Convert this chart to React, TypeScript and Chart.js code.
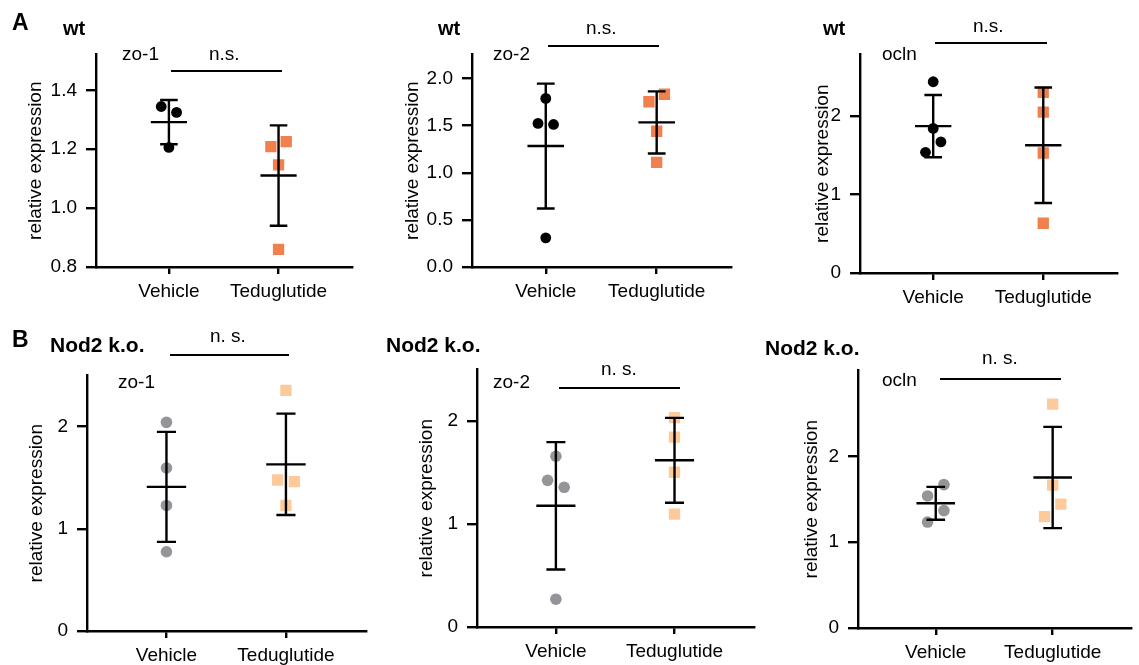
import React, { useEffect, useRef } from 'react';
import { Chart, registerables } from 'chart.js';

Chart.register(...registerables);
Chart.defaults.font.family = "'Liberation Sans', Arial, Helvetica, sans-serif";
Chart.defaults.color = '#000';

// ---------- data ----------
const groups = ['Vehicle', 'Teduglutide'];

const wtZo1Vehicle = [1.345, 1.325, 1.206];
const wtZo1Tedu = [1.209, 1.226, 1.147, 0.86];
const wtZo2Vehicle = [1.788, 1.523, 1.512, 0.309];
const wtZo2Tedu = [1.753, 1.832, 1.44, 1.11];
const wtOclnVehicle = [2.432, 1.839, 1.535, 1.667];
const wtOclnTedu = [2.296, 2.045, 1.526, 0.633];

const koZo1Vehicle = [2.041, 1.595, 1.228, 0.775];
const koZo1Tedu = [2.354, 1.477, 1.461, 1.228];
const koZo2Vehicle = [1.657, 1.423, 1.356, 0.27];
const koZo2Tedu = [2.032, 1.842, 1.502, 1.095];
const koOclnVehicle = [1.538, 1.67, 1.234, 1.367];
const koOclnTedu = [2.608, 1.663, 1.298, 1.442];

const ticksWtZo1 = ['0.8', '1.0', '1.2', '1.4'];
const ticksWtZo2 = ['0.0', '0.5', '1.0', '1.5', '2.0'];
const ticksInt = ['0', '1', '2'];

// ---------- styles ----------
const FONT = "'Liberation Sans', Arial, Helvetica, sans-serif";
const WT_CIRCLE = '#000000';
const WT_SQUARE = '#F1804F';
const KO_CIRCLE = '#939598';
const KO_SQUARE = '#FDCB9B';
const TXT = 19;
const LW = 2.4;

type PanelDef = {
  vehicle: number[];
  tedu: number[];
  yMin: number;
  yMax: number;
  ticks: string[];
  ko: boolean;
  scaleLeft: number;
  axisX: number;
  top: number;
  right: number;
  bottom: number;
};

const panels: PanelDef[] = [
  { vehicle: wtZo1Vehicle, tedu: wtZo1Tedu, yMin: 0.8, yMax: 1.522, ticks: ticksWtZo1, ko: false, scaleLeft: 24, axisX: 96, top: 48, right: 358, bottom: 267 },
  { vehicle: wtZo2Vehicle, tedu: wtZo2Tedu, yMin: 0, yMax: 2.255, ticks: ticksWtZo2, ko: false, scaleLeft: 401, axisX: 472, top: 48, right: 737, bottom: 267 },
  { vehicle: wtOclnVehicle, tedu: wtOclnTedu, yMin: 0, yMax: 2.78, ticks: ticksInt, ko: false, scaleLeft: 811, axisX: 860, top: 48, right: 1123, bottom: 273 },
  { vehicle: koZo1Vehicle, tedu: koZo1Tedu, yMin: 0, yMax: 2.5, ticks: ticksInt, ko: true, scaleLeft: 25, axisX: 87, top: 369, right: 372, bottom: 631 },
  { vehicle: koZo2Vehicle, tedu: koZo2Tedu, yMin: 0, yMax: 2.5, ticks: ticksInt, ko: true, scaleLeft: 415, axisX: 477, top: 363, right: 760, bottom: 627 },
  { vehicle: koOclnVehicle, tedu: koOclnTedu, yMin: 0, yMax: 3.0, ticks: ticksInt, ko: true, scaleLeft: 800, axisX: 858, top: 364, right: 1137, bottom: 628 },
];

type Label = { text: string; x: number; base: number; size: number; bold?: boolean };
const labels: Label[] = [
  { text: 'A', x: 12, base: 30, size: 23, bold: true },
  { text: 'wt', x: 63, base: 35, size: 20, bold: true },
  { text: 'zo-1', x: 122, base: 60, size: TXT },
  { text: 'n.s.', x: 209, base: 60, size: TXT },
  { text: 'wt', x: 438, base: 35, size: 20, bold: true },
  { text: 'zo-2', x: 493, base: 60, size: TXT },
  { text: 'n.s.', x: 586, base: 34, size: TXT },
  { text: 'wt', x: 823, base: 35, size: 20, bold: true },
  { text: 'ocln', x: 882, base: 60, size: TXT },
  { text: 'n.s.', x: 973, base: 32, size: TXT },
  { text: 'B', x: 12, base: 347, size: 23, bold: true },
  { text: 'Nod2 k.o.', x: 50, base: 352, size: 21, bold: true },
  { text: 'zo-1', x: 118, base: 388, size: TXT },
  { text: 'n. s.', x: 210, base: 342, size: TXT },
  { text: 'Nod2 k.o.', x: 386, base: 352, size: 21, bold: true },
  { text: 'zo-2', x: 493, base: 388, size: TXT },
  { text: 'n. s.', x: 601, base: 375, size: TXT },
  { text: 'Nod2 k.o.', x: 765, base: 355, size: 21, bold: true },
  { text: 'ocln', x: 882, base: 386, size: TXT },
  { text: 'n. s.', x: 982, base: 364, size: TXT },
];

const brackets = [
  { x1: 171, x2: 282, y: 71 },
  { x1: 548, x2: 659, y: 46 },
  { x1: 935, x2: 1047, y: 43 },
  { x1: 170, x2: 289, y: 355 },
  { x1: 559, x2: 680, y: 388 },
  { x1: 940, x2: 1061, y: 379 },
];

// simple beeswarm: neighbouring values closer than thr share a row, centred
function swarm(values: number[], center: number, thr: number, step: number): number[] {
  const order = values.map((_, i) => i).sort((a, b) => values[b] - values[a]);
  const xs = values.map(() => center);
  let row: number[] = [];
  const flush = () => {
    const r = [...row].sort((a, b) => a - b);
    r.forEach((idx, k) => {
      xs[idx] = center + (k - (r.length - 1) / 2) * step;
    });
    row = [];
  };
  order.forEach((idx, k) => {
    if (k > 0 && values[order[k - 1]] - values[idx] >= thr) flush();
    row.push(idx);
  });
  flush();
  return xs;
}

const meanSdPlugin = {
  id: 'meanSd',
  afterDatasetsDraw(chart: any) {
    const { ctx } = chart;
    const x = chart.scales.x;
    const y = chart.scales.y;
    ctx.save();
    ctx.strokeStyle = '#000';
    ctx.lineWidth = LW;
    chart.data.datasets.forEach((ds: any) => {
      const vals: number[] = ds.data.map((p: any) => p.y);
      const n = vals.length;
      const m = vals.reduce((a, b) => a + b, 0) / n;
      const sd = Math.sqrt(vals.reduce((a, b) => a + (b - m) * (b - m), 0) / (n - 1));
      const g = ds.groupX;
      const cx = x.getPixelForValue(g);
      const hw = x.getPixelForValue(g + 0.165) - cx;
      const cw = x.getPixelForValue(g + 0.08) - cx;
      const ym = y.getPixelForValue(m);
      const yt = y.getPixelForValue(m + sd);
      const yb = y.getPixelForValue(m - sd);
      ctx.beginPath();
      ctx.moveTo(cx - hw, ym);
      ctx.lineTo(cx + hw, ym);
      ctx.moveTo(cx, yt);
      ctx.lineTo(cx, yb);
      ctx.moveTo(cx - cw, yt);
      ctx.lineTo(cx + cw, yt);
      ctx.moveTo(cx - cw, yb);
      ctx.lineTo(cx + cw, yb);
      ctx.stroke();
    });
    ctx.restore();
  },
};

const PAD_TOP = 14;
const X_H = 40;
const PAD_BOTTOM = 4;
const PAD_RIGHT = 2;

function Panel({ p }: { p: PanelDef }) {
  const ref = useRef<HTMLCanvasElement | null>(null);
  const width = p.right + PAD_RIGHT - p.scaleLeft;
  const height = p.bottom - p.top + PAD_TOP + X_H + PAD_BOTTOM;
  useEffect(() => {
    const range = p.yMax - p.yMin;
    const thr = 0.05 * range;
    const vx = swarm(p.vehicle, 1, thr, 0.14);
    const tx = swarm(p.tedu, 2, thr, 0.14);
    const tickVals = p.ticks.map(Number);
    const chart = new Chart(ref.current as HTMLCanvasElement, {
      type: 'scatter',
      data: {
        datasets: [
          {
            data: p.vehicle.map((v, i) => ({ x: vx[i], y: v })),
            pointStyle: 'circle',
            pointRadius: p.ko ? 5.8 : 5.4,
            pointBackgroundColor: p.ko ? KO_CIRCLE : WT_CIRCLE,
            pointBorderWidth: 0,
            groupX: 1,
          } as any,
          {
            data: p.tedu.map((v, i) => ({ x: tx[i], y: v })),
            pointStyle: 'rect',
            pointRadius: 8,
            pointBackgroundColor: p.ko ? KO_SQUARE : WT_SQUARE,
            pointBorderWidth: 0,
            groupX: 2,
          } as any,
        ],
      },
      options: {
        animation: false,
        responsive: false,
        maintainAspectRatio: false,
        events: [],
        layout: { padding: { left: 0, top: PAD_TOP, right: PAD_RIGHT, bottom: PAD_BOTTOM } },
        plugins: { legend: { display: false }, tooltip: { enabled: false } },
        scales: {
          x: {
            type: 'linear',
            min: 0.335,
            max: 2.67,
            afterBuildTicks: (s: any) => {
              s.ticks = [{ value: 1 }, { value: 2 }];
            },
            afterFit: (s: any) => {
              s.height = X_H;
            },
            ticks: {
              callback: (_v: any, i: number) => groups[i],
              font: { size: TXT, family: FONT },
              color: '#000',
              padding: 6,
              maxRotation: 0,
              autoSkip: false,
            },
            grid: { display: true, drawOnChartArea: false, drawTicks: true, tickLength: 7, color: '#000', lineWidth: LW },
            border: { display: true, color: '#000', width: LW },
          },
          y: {
            type: 'linear',
            min: p.yMin,
            max: p.yMax,
            afterBuildTicks: (s: any) => {
              s.ticks = tickVals.map((v) => ({ value: v }));
            },
            afterFit: (s: any) => {
              s.width = p.axisX - p.scaleLeft;
            },
            ticks: {
              callback: (_v: any, i: number) => p.ticks[i],
              font: { size: TXT, family: FONT },
              color: '#000',
              padding: 9,
              autoSkip: false,
            },
            title: {
              display: true,
              text: 'relative expression',
              font: { size: TXT, family: FONT },
              color: '#000',
              padding: { top: 0, bottom: 0 },
            },
            grid: { display: true, drawOnChartArea: false, drawTicks: true, tickLength: 10, color: '#000', lineWidth: LW },
            border: { display: true, color: '#000', width: LW },
          },
        },
      } as any,
      plugins: [meanSdPlugin],
    });
    return () => chart.destroy();
  }, [p]);
  return (
    <canvas
      ref={ref}
      width={width}
      height={height}
      style={{ position: 'absolute', left: p.scaleLeft, top: p.top - PAD_TOP, width, height }}
    />
  );
}

export default function App() {
  return (
    <div
      style={{
        position: 'absolute',
        left: 0,
        top: 0,
        width: 1139,
        height: 665,
        overflow: 'hidden',
        background: '#fff',
        fontFamily: FONT,
      }}
    >
      {panels.map((p, i) => (
        <Panel key={i} p={p} />
      ))}
      {brackets.map((b, i) => (
        <div
          key={'b' + i}
          style={{ position: 'absolute', left: b.x1, top: b.y - 1, width: b.x2 - b.x1, height: 2, background: '#000' }}
        />
      ))}
      {labels.map((l, i) => (
        <div
          key={'l' + i}
          style={{
            position: 'absolute',
            left: l.x,
            top: l.base - 0.8465 * l.size,
            fontSize: l.size,
            lineHeight: l.size + 'px',
            fontWeight: l.bold ? 700 : 400,
            whiteSpace: 'nowrap',
            color: '#000',
          }}
        >
          {l.text}
        </div>
      ))}
    </div>
  );
}
